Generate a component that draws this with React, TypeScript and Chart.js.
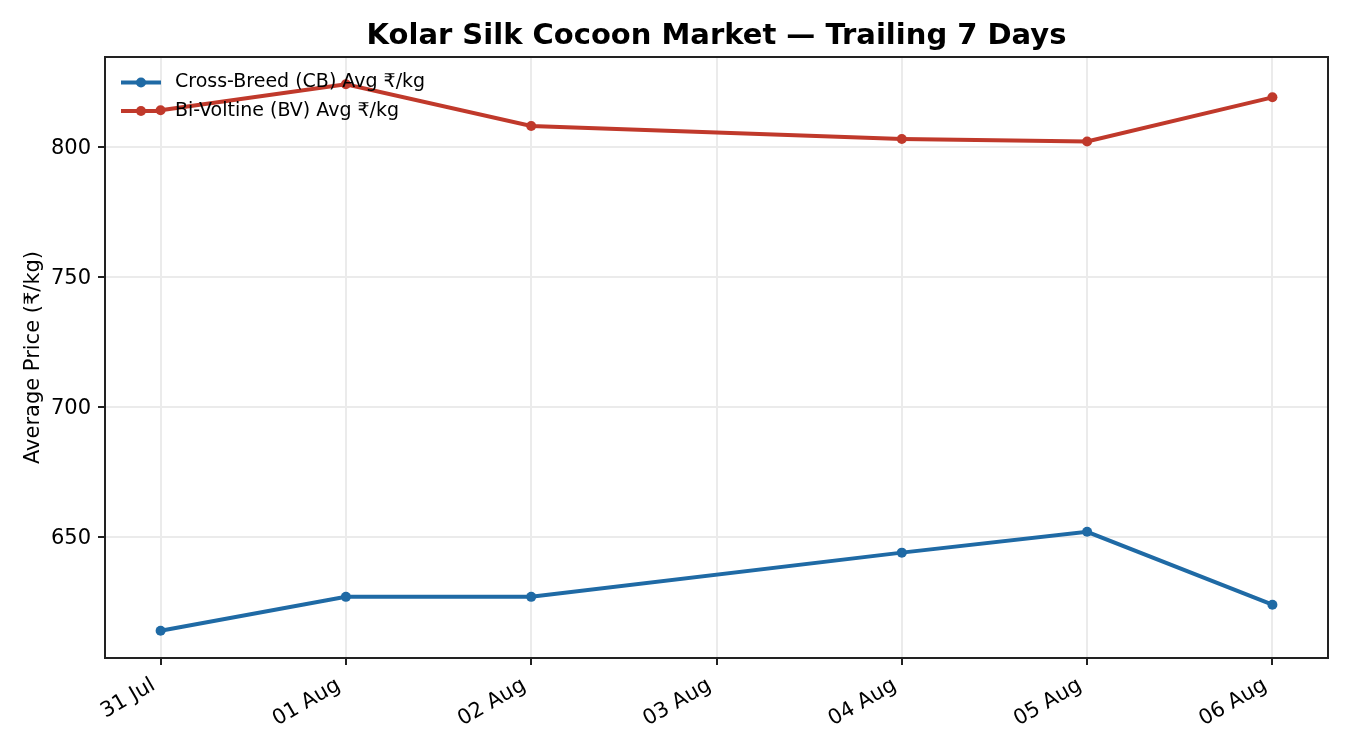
import React, { useEffect, useRef } from 'react';
import { Chart, registerables } from 'chart.js';

Chart.register(...registerables);

const dayLabels = ['31 Jul', '01 Aug', '02 Aug', '03 Aug', '04 Aug', '05 Aug', '06 Aug'];
// index into dayLabels; no auction recorded on 03 Aug
const tradingDays = [0, 1, 2, 4, 5, 6];
const cbAvg = [614, 627, 627, 644, 652, 624];
const bvAvg = [814, 824, 808, 803, 802, 819];
const yTicks = [650, 700, 750, 800];

const FONT = "'DejaVu Sans', sans-serif";
const TITLE = 'Kolar Silk Cocoon Market — Trailing 7 Days';

const allValues = [...cbAvg, ...bvAvg];
const yLo = Math.min(...allValues);
const yHi = Math.max(...allValues);
const yPad = (yHi - yLo) * 0.05;
const xPad = (dayLabels.length - 1) * 0.05;

// title centred over the plot area, like matplotlib's ax.set_title
const axTitle = {
  id: 'axTitle',
  afterDraw(chart: any) {
    const { ctx, chartArea } = chart;
    ctx.save();
    ctx.fillStyle = '#000';
    ctx.font = `bold 29px ${FONT}`;
    ctx.textAlign = 'center';
    ctx.textBaseline = 'alphabetic';
    ctx.fillText(TITLE, (chartArea.left + chartArea.right) / 2, 44);
    ctx.restore();
  },
};

// matplotlib-style legend drawn inside the plot, upper left, no frame
const innerLegend = {
  id: 'innerLegend',
  afterDraw(chart: any) {
    const { ctx, chartArea } = chart;
    ctx.save();
    chart.data.datasets.forEach((ds: any, i: number) => {
      const y = chartArea.top + 25.5 + i * 28.5;
      const x0 = chartArea.left + 16;
      ctx.strokeStyle = ds.borderColor;
      ctx.lineWidth = 4;
      ctx.beginPath();
      ctx.moveTo(x0, y);
      ctx.lineTo(x0 + 40, y);
      ctx.stroke();
      ctx.fillStyle = ds.borderColor;
      ctx.beginPath();
      ctx.arc(x0 + 20, y, 5, 0, Math.PI * 2);
      ctx.fill();
      ctx.fillStyle = '#000';
      ctx.font = `19px ${FONT}`;
      ctx.textBaseline = 'middle';
      ctx.textAlign = 'left';
      ctx.fillText(ds.label, x0 + 54, y);
    });
    ctx.restore();
  },
};

// top/right spines
const frame = {
  id: 'frame',
  afterDatasetsDraw(chart: any) {
    const { ctx, chartArea } = chart;
    ctx.save();
    ctx.strokeStyle = '#222';
    ctx.lineWidth = 2;
    ctx.strokeRect(chartArea.left, chartArea.top, chartArea.right - chartArea.left, chartArea.bottom - chartArea.top);
    ctx.restore();
  },
};

const App: React.FC = () => {
  const canvasRef = useRef<HTMLCanvasElement>(null);

  useEffect(() => {
    if (!canvasRef.current) return;
    const chart = new Chart(canvasRef.current, {
      type: 'line',
      data: {
        datasets: [
          {
            label: 'Cross-Breed (CB) Avg ₹/kg',
            data: tradingDays.map((d, i) => ({ x: d, y: cbAvg[i] })),
            borderColor: '#1f6aa5',
            backgroundColor: '#1f6aa5',
            borderWidth: 4,
            pointRadius: 5,
            pointBorderWidth: 0,
          },
          {
            label: 'Bi-Voltine (BV) Avg ₹/kg',
            data: tradingDays.map((d, i) => ({ x: d, y: bvAvg[i] })),
            borderColor: '#c0392b',
            backgroundColor: '#c0392b',
            borderWidth: 4,
            pointRadius: 5,
            pointBorderWidth: 0,
          },
        ],
      },
      options: {
        animation: false,
        responsive: true,
        maintainAspectRatio: false,
        layout: { padding: { left: 0, right: 22, top: 57, bottom: 0 } },
        plugins: {
          legend: { display: false },
          tooltip: { enabled: false },
          title: { display: false },
        },
        scales: {
          x: {
            type: 'linear',
            min: -xPad,
            max: dayLabels.length - 1 + xPad,
            afterBuildTicks: (scale: any) => {
              scale.ticks = dayLabels.map((_, i) => ({ value: i }));
            },
            afterFit: (scale: any) => {
              scale.height = 92;
            },
            ticks: {
              autoSkip: false,
              minRotation: 30,
              maxRotation: 30,
              padding: 8,
              labelOffset: -7,
              color: '#000',
              font: { family: FONT, size: 21 },
              callback: (v: any) => dayLabels[v] ?? '',
            },
            grid: { color: '#ebebeb', lineWidth: 2, tickColor: '#222', tickLength: 7, tickWidth: 2 },
            border: { color: '#222', width: 2 },
          },
          y: {
            min: yLo - yPad,
            max: yHi + yPad,
            afterBuildTicks: (scale: any) => {
              scale.ticks = yTicks.map((v) => ({ value: v }));
            },
            afterFit: (scale: any) => {
              scale.width = 105;
            },
            ticks: {
              padding: 7,
              labelOffset: 2,
              color: '#000',
              font: { family: FONT, size: 21 },
            },
            title: {
              display: true,
              text: 'Average Price (₹/kg)',
              color: '#000',
              font: { family: FONT, size: 21, lineHeight: 1.2 },
              padding: { top: 21, bottom: 0 },
            },
            grid: { color: '#ebebeb', lineWidth: 2, tickColor: '#222', tickLength: 7, tickWidth: 2 },
            border: { color: '#222', width: 2 },
          },
        },
      },
      plugins: [axTitle, innerLegend, frame],
    });
    return () => chart.destroy();
  }, []);

  return (
    <div style={{ position: 'fixed', left: 0, top: 0, width: 1350, height: 750, background: '#fff' }}>
      <canvas ref={canvasRef} />
    </div>
  );
};

export default App;
